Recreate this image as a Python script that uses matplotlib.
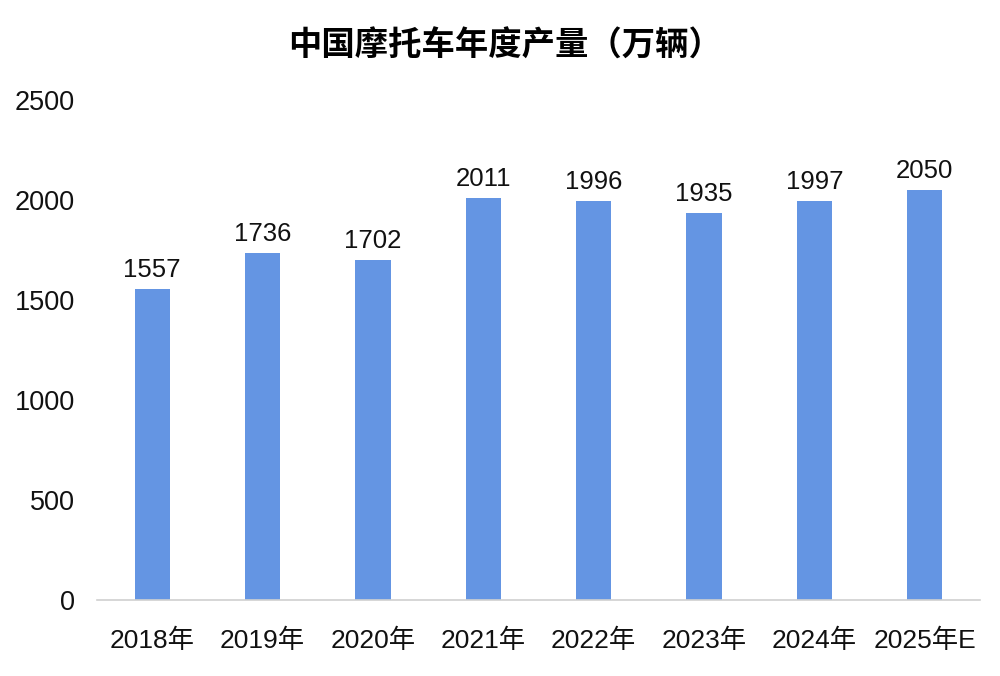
import matplotlib
matplotlib.use('Agg')
import matplotlib.pyplot as plt

# data
years = ['2018年', '2019年', '2020年', '2021年', '2022年', '2023年', '2024年', '2025年E']
output = [1557, 1736, 1702, 2011, 1996, 1935, 1997, 2050]
yticks = [0, 500, 1000, 1500, 2000, 2500]

plt.rcParams['font.family'] = ['Liberation Sans', 'Noto Sans CJK SC']

fig = plt.figure(figsize=(10, 6.76), dpi=100)
ax = fig.add_axes([0.097, 0.1124, 0.883, 0.7396])

x = range(len(years))
bars = ax.bar(x, output, width=0.32, color='#6495E3', zorder=2)
ax.bar_label(bars, labels=[str(v) for v in output], padding=5, fontsize=18.5, color='#111111')

ax.set_xlim(-0.5, len(years) - 0.5)
ax.set_ylim(0, 2500)
ax.set_yticks(yticks)
ax.set_yticklabels([str(t) for t in yticks])
ax.set_xticks(list(x))
ax.set_xticklabels(years)

ax.tick_params(axis='y', length=0, pad=16, labelsize=19.5, labelcolor='#111111')
ax.tick_params(axis='x', length=0, pad=21, labelsize=19, labelcolor='#111111')

for side in ['top', 'right', 'left']:
    ax.spines[side].set_visible(False)
ax.spines['bottom'].set_color('#d0d0d0')
ax.spines['bottom'].set_linewidth(1.2)

fig.text(0.505, 1 - 46 / 676, '中国摩托车年度产量（万辆）', ha='center', va='center',
         fontsize=24, fontweight='bold', family=['Noto Sans CJK SC', 'DejaVu Sans'])

fig.savefig('out.png', dpi=100, facecolor='white')
